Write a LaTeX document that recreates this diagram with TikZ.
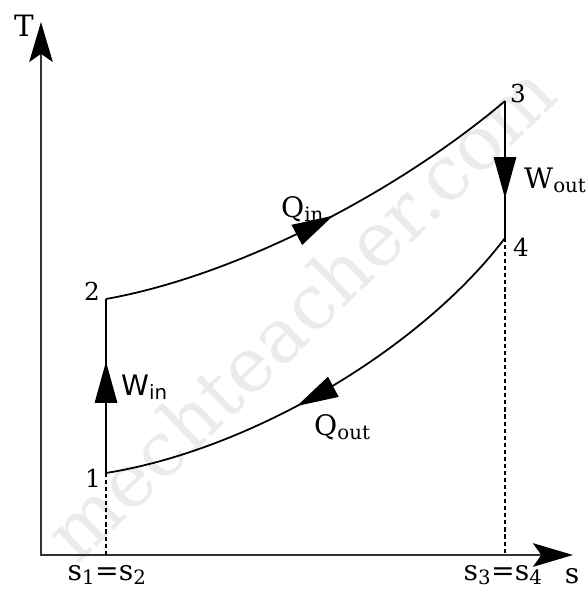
\documentclass[tikz,border=0pt]{standalone}
\usepackage{fontspec}
\setmainfont{DejaVu Serif}
\newfontfamily\wsans{DejaVu Sans}
\usetikzlibrary{positioning,arrows.meta,decorations.markings}

\tikzset{
  axisline/.style={line width=1.8pt, black!80, line join=miter},
  process/.style={line width=1.5pt},
  guide/.style={line width=1.2pt, dash pattern=on 3.5pt off 2.5pt},
  midarrow/.style={postaction={decorate}, decoration={markings,
      mark=at position #1 with {\arrow{Triangle[length=35pt,width=19pt]}}}},
  num/.style={font=\fontsize{21}{24}\selectfont, inner sep=0pt},
  lbl/.style={font=\fontsize{24}{28}\selectfont, inner sep=0pt},
  wmark/.style={font=\fontsize{64}{64}\selectfont, text=black!8, inner sep=0pt},
}

\begin{document}
\begin{tikzpicture}[x=0.85pt, y=-0.85pt]
  \useasboundingbox (0,0) rectangle (587,591);

  % Watermark
  \node[wmark, rotate=44] (mark) at (300,312) {mechteacher.com};

  % Axes
  \coordinate (O) at (41,555);
  \coordinate (Ttip) at (41,22);
  \coordinate (stip) at (573,555);
  \draw[axisline, {Stealth[length=34pt,width=20pt,inset=7pt,black]}-{Stealth[length=34pt,width=20pt,inset=7pt,black]}]
    (Ttip) -- (O) -- (stip);

  % State points
  \coordinate (p1) at (106,473);
  \coordinate (p2) at (106,299);
  \coordinate (p3) at (505,101);
  \coordinate (p4) at (505,238);
  \coordinate (s12) at (106,555);
  \coordinate (s34) at (505,555);

  % Processes
  \draw[process, midarrow=0.64] (p1) -- (p2);
  \draw[process, midarrow=0.54] (p2) .. controls (240,275) and (400,190) .. (p3);
  \draw[process, midarrow=0.71] (p3) -- (p4);
  \draw[process, midarrow=0.57] (p4) .. controls (420,350) and (250,450) .. (p1);
  \draw[guide] (p1) -- (s12);
  \draw[guide] (p4) -- (s34);

  % Labels
  \node[lbl, font=\fontsize{25}{28}\selectfont, anchor=base] (Tlbl) at (24,36) {T};
  \node[lbl, anchor=base] (slbl) at (572,583) {s};
  \node[num, anchor=base] (n1) at (93,487) {1};
  \node[num, anchor=base] (n2) at (92,300) {2};
  \node[num, anchor=base] (n3) at (518,102) {3};
  \node[num, anchor=base] (n4) at (521,256) {4};
  \node[lbl, anchor=base] (s12lbl) at (107,580) {s\textsubscript{1}=s\textsubscript{2}};
  \node[lbl, anchor=base] (s34lbl) at (503,580) {s\textsubscript{3}=s\textsubscript{4}};
  \node[lbl, anchor=base west] (Qin) at (281,217) {Q\textsubscript{in}};
  \node[lbl, anchor=base west] (Qout) at (314,435) {Q\textsubscript{out}};
  \node[lbl, font=\wsans\fontsize{24}{28}\selectfont, anchor=base west] (Win) at (121,395) {W\textsubscript{in}};
  \node[lbl, anchor=base west] (Wout) at (524,188) {W\textsubscript{out}};

\end{tikzpicture}
\end{document}
